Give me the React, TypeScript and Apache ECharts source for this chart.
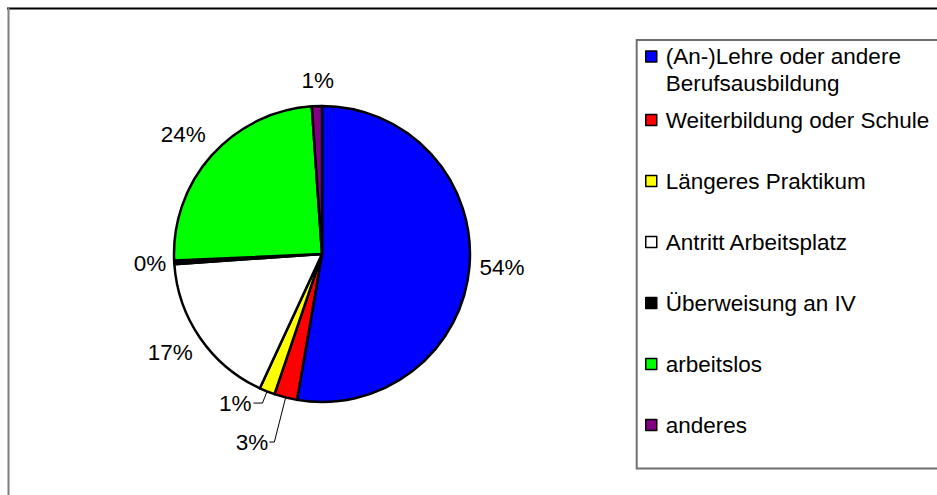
import React, { useEffect, useRef } from "react";
import * as echarts from "echarts";

const categories = [
  "(An-)Lehre oder andere\nBerufsausbildung",
  "Weiterbildung oder Schule",
  "Längeres Praktikum",
  "Antritt Arbeitsplatz",
  "Überweisung an IV",
  "arbeitslos",
  "anderes",
];
const shares = [52.7, 2.5, 1.7, 17.0, 0.4, 24.6, 1.1];
const percentLabels = ["54%", "3%", "1%", "17%", "0%", "24%", "1%"];
const sliceColors = ["#0000FF", "#FF0000", "#FFFF00", "#FFFFFF", "#000000", "#00FF00", "#800080"];

// label placement (styling, not data)
const labelPlacement = [
  { len: 16, len2: -6, dist: 0, line: false },
  { len: 46, len2: 5, dist: 1, line: true },
  { len: 12.5, len2: 9, dist: 2, line: true },
  { len: 26, len2: -14, dist: 0, line: false },
  { len: 13, len2: -5, dist: 0, line: false },
  { len: 32, len2: -18, dist: 0, line: false },
  { len: 26, len2: -18, dist: 0, line: false },
];

const FONT = "'Liberation Sans', Arial, sans-serif";
const FS = 22.5;
const LH = 26.5;

export default function App() {
  const ref = useRef<HTMLDivElement>(null);
  useEffect(() => {
    if (!ref.current) return;
    const chart = echarts.init(ref.current, null, { renderer: "svg" });
    const legendCommon = {
      orient: "vertical",
      left: 645,
      padding: 0,
      icon: "rect",
      itemWidth: 11,
      itemHeight: 11,
      selectedMode: false,
      itemStyle: { borderColor: "#000", borderWidth: 1.5 },
      textStyle: { fontFamily: FONT, fontSize: FS, lineHeight: LH, color: "#000", padding: [0, 0, 0, 4] },
    };
    chart.setOption({
      animation: false,
      backgroundColor: "#fff",
      graphic: [
        { type: "line", shape: { x1: 7, y1: 8.5, x2: 940, y2: 8.5 }, style: { stroke: "#000", lineWidth: 2 } },
        { type: "line", shape: { x1: 8.5, y1: 8, x2: 8.5, y2: 500 }, style: { stroke: "#7f7f7f", lineWidth: 2 } },
        {
          type: "rect",
          shape: { x: 636.7, y: 40, width: 320, height: 428.5 },
          style: { fill: "none", stroke: "#707070", lineWidth: 2 },
        },
      ],
      legend: [
        {
          ...legendCommon,
          top: 16.75,
          data: [categories[0]],
          formatter: (name: string) => "\n" + name,
        },
        {
          ...legendCommon,
          top: 106.75,
          itemGap: 34.5,
          data: categories.slice(1),
        },
      ],
      series: [
        {
          type: "pie",
          center: [322, 254],
          radius: 148,
          startAngle: 90,
          clockwise: true,
          avoidLabelOverlap: false,
          silent: true,
          itemStyle: { borderColor: "#000", borderWidth: 2.5 },
          emphasis: { disabled: true },
          label: {
            show: true,
            position: "outside",
            fontFamily: FONT,
            fontSize: FS,
            color: "#000",
            formatter: (p: any) => percentLabels[p.dataIndex],
          },
          labelLine: { lineStyle: { color: "#000", width: 1 } },
          data: categories.map((name, i) => ({
            name,
            value: shares[i],
            itemStyle: { color: sliceColors[i] },
            label: { distanceToLabelLine: labelPlacement[i].dist },
            labelLine: {
              show: labelPlacement[i].line,
              length: labelPlacement[i].len,
              length2: labelPlacement[i].len2,
            },
          })),
        },
      ],
    });
    return () => chart.dispose();
  }, []);
  return (
    <div
      ref={ref}
      style={{ position: "fixed", left: 0, top: 0, width: 937, height: 495, background: "#fff" }}
    />
  );
}
